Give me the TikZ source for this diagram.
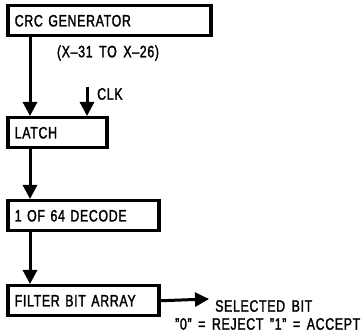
\documentclass[tikz,border=0pt]{standalone}
\usepackage{fontspec}
\setmainfont[FakeStretch=0.75,FakeBold=1.6,LetterSpace=4,WordSpace=1.6]{Liberation Sans}
\usetikzlibrary{arrows.meta}
\begin{document}
\begin{tikzpicture}[x=1pt,y=-1pt,
  blk/.style={draw,line width=3.5pt,anchor=north west,minimum height=30pt,
    text width=#1,align=left,inner xsep=7pt,inner ysep=0pt,
    font=\fontsize{16.5}{18}\selectfont},
  lbl/.style={font=\fontsize{16.5}{18}\selectfont,inner sep=0pt},
  conn/.style={line width=3pt,-{Triangle[length=14pt,width=14pt]}}]
\useasboundingbox (0,0) rectangle (362,334);
\node[blk=189pt] (crc) at (6,4) {CRC GENERATOR};
\node[lbl] (range) at (108,53) {(X–31 TO X–26)};
\node[blk=85pt] (latch) at (6,116) {LATCH};
\node[blk=137pt] (dec) at (6,199) {1 OF 64 DECODE};
\node[blk=137pt] (filt) at (6,284) {FILTER BIT ARRAY};
\coordinate (clk) at (87,87);
\node[lbl,anchor=west] (clkl) at (97,94) {CLK};
\coordinate (out) at (209,299);
\node[lbl,anchor=west] (sel) at (215,306) {SELECTED BIT};
\node[lbl,anchor=west] (acc) at (175,324) {''0'' = REJECT ''1'' = ACCEPT};
\draw[conn] ([xshift=24pt]crc.south west) -- ([xshift=24pt]latch.north west);
\draw[conn] (clk) -- (clk |- latch.north);
\draw[conn] ([xshift=24pt]latch.south west) -- ([xshift=24pt]dec.north west);
\draw[conn] ([xshift=24pt]dec.south west) -- ([xshift=24pt]filt.north west);
\draw[conn] (filt.east) -- (out);
\end{tikzpicture}
\end{document}
